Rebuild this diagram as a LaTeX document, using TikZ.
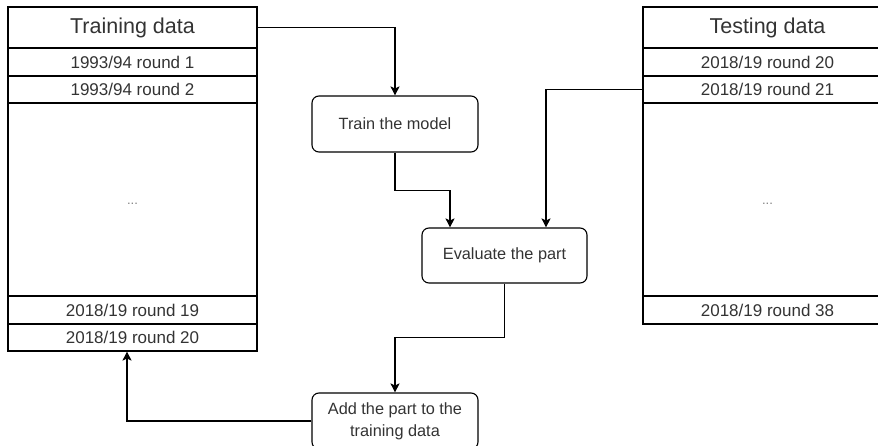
\documentclass[tikz,border=0pt]{standalone}
\usepackage{fontspec}
\setmainfont{Liberation Sans}
\usetikzlibrary{arrows.meta}
\definecolor{txt}{RGB}{51,51,51}
\begin{document}
\begin{tikzpicture}[x=1pt,y=-1pt,
  cell/.style={draw=black,line width=1.1pt,minimum width=249pt,inner sep=0pt,text=txt,font=\fontsize{17}{20}\selectfont},
  head/.style={cell,font=\fontsize{21.5}{25}\selectfont},
  proc/.style={draw=black,line width=1.1pt,rounded corners=7pt,minimum width=166pt,minimum height=56pt,inner sep=0pt,text=txt,align=center,font=\fontsize{16.3}{22}\selectfont},
  dots/.style={cell,text=gray,font=\fontsize{13}{15}\selectfont},
  arr/.style={draw=black,line width=1.1pt,-{Stealth[length=9pt,width=9pt,inset=2pt]}}]
\useasboundingbox (0,0) rectangle (878,446);
\clip (0,0) rectangle (878,446);
% Training data
\node[head,minimum height=41pt] (trh) at (132.5,27.5) {Training data};
\node[cell,minimum height=28pt] (tr1) at (132.5,62) {1993/94 round 1};
\node[cell,minimum height=27pt] (tr2) at (132.5,89.5) {1993/94 round 2};
\node[cell,minimum height=193pt] (trm) at (132.5,199.5) {};
\node[text=gray,font=\fontsize{13}{15}\selectfont] (trd) at (132.5,204) {...};
\node[cell,minimum height=28pt] (tr19) at (132.5,310) {2018/19 round 19};
\node[cell,minimum height=27pt] (tr20) at (132.5,337.5) {2018/19 round 20};
% Testing data
\node[head,minimum height=41pt] (teh) at (767.5,27.5) {Testing data};
\node[cell,minimum height=28pt] (te20) at (767.5,62) {2018/19 round 20};
\node[cell,minimum height=27pt] (te21) at (767.5,89.5) {2018/19 round 21};
\node[cell,minimum height=193pt] (tem) at (767.5,199.5) {};
\node[text=gray,font=\fontsize{13}{15}\selectfont] (ted) at (767.5,204) {...};
\node[cell,minimum height=28pt] (te38) at (767.5,310) {2018/19 round 38};
% process boxes
\node[proc] (train) at (395,124) {Train the model};
\node[proc,minimum width=165pt,minimum height=55pt] (eval) at (504.5,255.5) {Evaluate the part};
\node[proc] (add) at (395,421) {Add the part to the\\training data};
% connectors
\draw[arr] (trh.east) -| (train.north);
\draw[arr] (train.south) -- ++(0,38) -| ([xshift=-54.5pt]eval.north);
\draw[arr] (te21.west) -| ([xshift=41.5pt]eval.north);
\draw[arr] (eval.south) -- ++(0,54) -| (add.north);
\draw[arr] (add.west) -| ([xshift=-5.5pt]tr20.south);
\end{tikzpicture}
\end{document}
